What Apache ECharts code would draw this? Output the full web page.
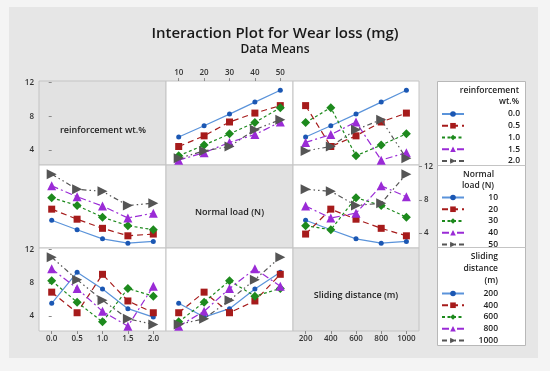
<!DOCTYPE html>
<html><head><meta charset="utf-8">
<script src="https://cdn.jsdelivr.net/npm/echarts@6/dist/echarts.min.js"></script>
<style>html,body{margin:0;padding:0;background:#f4f4f4}#c{width:550px;height:371px}</style>
</head><body><div id="c"></div>
<script>
// ---- factor levels / tick labels ----
const reinfLevels = [0, 0.5, 1.0, 1.5, 2.0];
const reinfNames = ['0.0', '0.5', '1.0', '1.5', '2.0'];
const loadLevels = [10, 20, 30, 40, 50];
const loadNames = ['10', '20', '30', '40', '50'];
const distLevels = [200, 400, 600, 800, 1000];
const distNames = ['200', '400', '600', '800', '1000'];
const yTicks = [4, 8, 12];

// ---- data means (wear loss, mg) ----
// Row 1, col 2: x = normal load, one line per reinforcement wt.%
const wearVsLoad_byReinf = [
  [5.54, 6.88, 8.26, 9.69, 11.1],
  [4.40, 5.67, 7.32, 8.38, 9.27],
  [3.30, 4.57, 5.91, 7.25, 9.03],
  [2.78, 3.67, 4.89, 5.82, 7.32],
  [2.99, 3.88, 4.40, 6.40, 7.60]
];
// Row 1, col 3: x = sliding distance, one line per reinforcement wt.%
const wearVsDist_byReinf = [
  [5.54, 6.88, 8.26, 9.69, 11.1],
  [9.27, 4.40, 5.67, 7.32, 8.38],
  [7.25, 9.03, 3.30, 4.57, 5.91],
  [4.89, 5.82, 7.32, 2.78, 3.67],
  [3.88, 4.40, 6.40, 7.60, 2.99]
];
// Row 2, col 1: x = reinforcement wt.%, one line per normal load
const wearVsReinf_byLoad = [
  [5.54, 4.40, 3.30, 2.78, 2.99],
  [6.88, 5.67, 4.57, 3.67, 3.88],
  [8.26, 7.32, 5.91, 4.89, 4.40],
  [9.69, 8.38, 7.25, 5.82, 6.40],
  [11.1, 9.27, 9.03, 7.32, 7.60]
];
// Row 2, col 3: x = sliding distance, one line per normal load
const wearVsDist_byLoad = [
  [5.54, 4.40, 3.30, 2.78, 2.99],
  [3.88, 6.88, 5.67, 4.57, 3.67],
  [4.89, 4.40, 8.26, 7.32, 5.91],
  [7.25, 5.82, 6.40, 9.69, 8.38],
  [9.27, 9.03, 7.32, 7.60, 11.1]
];
// Row 3, col 1: x = reinforcement wt.%, one line per sliding distance
const wearVsReinf_byDist = [
  [5.54, 9.27, 7.25, 4.89, 3.88],
  [6.88, 4.40, 9.03, 5.82, 4.40],
  [8.26, 5.67, 3.30, 7.32, 6.40],
  [9.69, 7.32, 4.57, 2.78, 7.60],
  [11.1, 8.38, 5.91, 3.67, 2.99]
];
// Row 3, col 2: x = normal load, one line per sliding distance
const wearVsLoad_byDist = [
  [5.54, 3.88, 4.89, 7.25, 9.27],
  [4.40, 6.88, 4.40, 5.82, 9.03],
  [3.30, 5.67, 8.26, 6.40, 7.32],
  [2.78, 4.57, 7.32, 9.69, 7.60],
  [2.99, 3.67, 5.91, 8.38, 11.1]
];

// ---- styles ----
const styles = [
  {color: '#1b57b3', line: '#5a93da', dash: 'solid', symbol: 'circle', size: 5, rot: 0},
  {color: '#a61b1b', line: '#a61b1b', dash: [6, 4], symbol: 'rect', size: 7, rot: 0},
  {color: '#1d8a1d', line: '#1d8a1d', dash: [3, 2.5], symbol: 'diamond', size: 9, rot: 0},
  {color: '#9a2bd6', line: '#9a2bd6', dash: [7, 3, 2, 3], symbol: 'triangle', size: 9, rot: 0},
  {color: '#555555', line: '#555555', dash: [5, 3, 1.5, 3, 1.5, 3], symbol: 'triangle', size: 10, rot: -90}
];

const FONT = 'Open Sans';
const xs = [39, 166, 293, 419];
const ys = [81, 165, 248, 331];
const yMin = 2.2, yMax = 12.2;
const colAxis = [
  {levels: reinfLevels, min: -0.25, max: 2.25, fmt: v => v.toFixed(1)},
  {levels: loadLevels, min: 5, max: 55, fmt: v => String(v)},
  {levels: distLevels, min: 100, max: 1100, fmt: v => String(v)}
];

const grids = [], xAxes = [], yAxes = [], series = [];
for (let r = 0; r < 3; r++) {
  for (let c = 0; c < 3; c++) {
    const diag = r === c;
    grids.push({
      left: xs[c], top: ys[r], width: xs[c + 1] - xs[c], height: ys[r + 1] - ys[r],
      show: true, backgroundColor: diag ? '#e2e2e2' : '#ffffff',
      borderColor: '#c4c4c4', borderWidth: 1, outerBoundsMode: 'none', containLabel: false
    });
    const ca = colAxis[c];
    const showTopX = (r === 0 && c === 1);
    const showBotX = (r === 2 && (c === 0 || c === 2));
    const showX = showTopX || showBotX;
    xAxes.push({
      gridIndex: r * 3 + c, type: 'value', min: ca.min, max: ca.max,
      position: showTopX ? 'top' : 'bottom',
      axisLine: {show: false}, splitLine: {show: false},
      axisTick: {show: showX, inside: false, length: 3, customValues: ca.levels, lineStyle: {color: '#8a8a8a'}},
      axisLabel: {show: showX, customValues: ca.levels, formatter: ca.fmt, margin: 4,
        fontFamily: FONT, fontSize: 8, fontWeight: 600, color: '#333'}
    });
    const showLeftY = (c === 0 && (r === 0 || r === 2));
    const showRightY = (c === 2 && r === 1);
    const showY = showLeftY || showRightY;
    yAxes.push({
      gridIndex: r * 3 + c, type: 'value', min: yMin, max: yMax,
      position: showRightY ? 'right' : 'left',
      axisLine: {show: false}, splitLine: {show: false},
      axisTick: {show: showY, inside: false, length: 3, customValues: yTicks, lineStyle: {color: '#8a8a8a'}},
      axisLabel: {show: showY, customValues: yTicks, margin: 5,
        fontFamily: FONT, fontSize: 8, fontWeight: 600, color: '#333'}
    });
  }
}

function addPanel(r, c, xLevels, names, table) {
  const gi = r * 3 + c;
  table.forEach((vals, k) => {
    const s = styles[k];
    series.push({
      type: 'line', name: names[k], xAxisIndex: gi, yAxisIndex: gi,
      data: xLevels.map((x, i) => [x, vals[i]]),
      symbol: s.symbol, symbolSize: s.size, symbolRotate: s.rot,
      itemStyle: {color: s.color},
      lineStyle: {color: s.line, width: 1.2, type: s.dash},
      silent: true, animation: false, z: 2 + k
    });
  });
}
addPanel(0, 1, loadLevels, reinfNames, wearVsLoad_byReinf);
addPanel(0, 2, distLevels, reinfNames, wearVsDist_byReinf);
addPanel(1, 0, reinfLevels, loadNames, wearVsReinf_byLoad);
addPanel(1, 2, distLevels, loadNames, wearVsDist_byLoad);
addPanel(2, 0, reinfLevels, distNames, wearVsReinf_byDist);
addPanel(2, 1, loadLevels, distNames, wearVsLoad_byDist);

function legendCfg(names, top, textW) {
  return {
    data: names, orient: 'vertical', left: 441, top: top,
    itemWidth: 22, itemHeight: 7, itemGap: 2.75, padding: 0, selectedMode: false,
    formatter: '{a|{name}}',
    textStyle: {fontFamily: FONT, fontSize: 8, color: '#222',
      rich: {a: {width: textW, align: 'right', lineHeight: 10, fontFamily: FONT, fontSize: 8.5, fontWeight: 600, color: '#222'}}}
  };
}

function txt(x, y, t, align, size, weight) {
  return {type: 'text', x: x, y: y, z: 50,
    style: {text: t, fill: '#222', font: (weight || 'normal') + ' ' + size + 'px "' + FONT + '"',
      textAlign: align, textVerticalAlign: 'middle'}};
}

const option = {
  backgroundColor: '#f4f4f4',
  animation: false,
  title: {
    text: 'Interaction Plot for Wear loss (mg)', subtext: 'Data Means',
    left: 'center', top: 21, itemGap: 3,
    textStyle: {fontFamily: FONT, fontSize: 15, fontWeight: 600, color: '#1a1a1a'},
    subtextStyle: {fontFamily: FONT, fontSize: 12, fontWeight: 600, color: '#1a1a1a'}
  },
  grid: grids, xAxis: xAxes, yAxis: yAxes, series: series,
  legend: [
    legendCfg(reinfNames, 109.5, 51),
    legendCfg(loadNames, 193, 29),
    legendCfg(distNames, 289, 29)
  ],
  graphic: {elements: [
    {type: 'rect', shape: {x: 9, y: 7, width: 529, height: 351}, style: {fill: '#e6e6e6'}, z: -100},
    {type: 'rect', shape: {x: 437.5, y: 81.5, width: 88, height: 264}, style: {fill: '#ffffff', stroke: '#b8b8b8', lineWidth: 1}, z: -50},
    {type: 'line', shape: {x1: 437.5, y1: 165.5, x2: 525.5, y2: 165.5}, style: {stroke: '#c4c4c4', lineWidth: 1}, z: -40},
    {type: 'line', shape: {x1: 437.5, y1: 247.5, x2: 525.5, y2: 247.5}, style: {stroke: '#c4c4c4', lineWidth: 1}, z: -40},
    txt(519, 91, 'reinforcement', 'right', 8.5, 600),
    txt(519, 102, 'wt.%', 'right', 8.5, 600),
    txt(494, 175, 'Normal', 'right', 8.5, 600),
    txt(494, 186, 'load (N)', 'right', 8.5, 600),
    txt(498, 257, 'Sliding', 'right', 8.5, 600),
    txt(498, 269, 'distance', 'right', 8.5, 600),
    txt(498, 281, '(m)', 'right', 8.5, 600),
    txt(103, 130, 'reinforcement wt.%', 'center', 9, 600),
    txt(229.5, 212, 'Normal load (N)', 'center', 9, 600),
    txt(356, 295, 'Sliding distance (m)', 'center', 9, 600)
  ]}
};
const chart = echarts.init(document.getElementById('c'), null, {renderer: 'canvas'});
chart.setOption(option);
</script></body></html>
